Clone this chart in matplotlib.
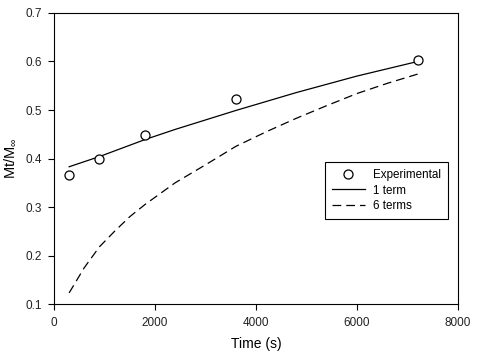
import matplotlib
matplotlib.use("Agg")
import matplotlib.pyplot as plt

plt.rcParams['font.family'] = ['Liberation Sans', 'DejaVu Sans']
plt.rcParams['mathtext.fontset'] = 'custom'
plt.rcParams['mathtext.rm'] = 'Liberation Sans'

exp_t = [300, 900, 1800, 3600, 7200]
exp_v = [0.365, 0.400, 0.449, 0.522, 0.604]

one_t = [300, 900, 1800, 2400, 3600, 4800, 6000, 7200]
one_v = [0.383, 0.404, 0.439, 0.460, 0.499, 0.536, 0.570, 0.600]

six_t = [300, 600, 900, 1200, 1500, 1800, 2400, 3000, 3600, 4200, 4800, 5400, 6000, 6600, 7200]
six_v = [0.123, 0.175, 0.218, 0.250, 0.280, 0.305, 0.350, 0.387, 0.425, 0.455, 0.483, 0.509, 0.534, 0.555, 0.574]

fig = plt.figure(figsize=(4.8, 3.56), dpi=100)
ax = fig.add_axes([0.1125, 0.146, 0.8417, 0.8175])

ax.plot(exp_t, exp_v, 'o', mfc='white', mec='black', ms=6.5, mew=0.9, label='Experimental', zorder=3)
ax.plot(one_t, one_v, '-', color='black', lw=0.9, label='1 term')
ax.plot(six_t, six_v, '--', color='black', lw=0.9, dashes=(7, 4), label='6 terms')

ax.set_xlim(0, 8000)
ax.set_ylim(0.1, 0.7)
ax.set_xticks([0, 2000, 4000, 6000, 8000])
ax.set_yticks([0.1, 0.2, 0.3, 0.4, 0.5, 0.6, 0.7])
ax.tick_params(direction='out', length=4, width=0.8, labelsize=8.5, top=False, right=False, pad=5,
               labelcolor='#222222')
for s in ax.spines.values():
    s.set_linewidth(0.8)

ax.set_xlabel('Time (s)', fontsize=10, labelpad=6)
ax.set_ylabel('Mt/M$_{\\infty}$', fontsize=10.5, labelpad=5)

leg = ax.legend(loc='upper left', bbox_to_anchor=(0.671, 0.488), fontsize=8.4, frameon=True,
                fancybox=False, edgecolor='black', framealpha=1, borderpad=0.6,
                handlelength=2.8, labelspacing=0.3, handletextpad=0.7, borderaxespad=0)
leg.get_frame().set_linewidth(0.8)

fig.savefig('out.png', dpi=100)
